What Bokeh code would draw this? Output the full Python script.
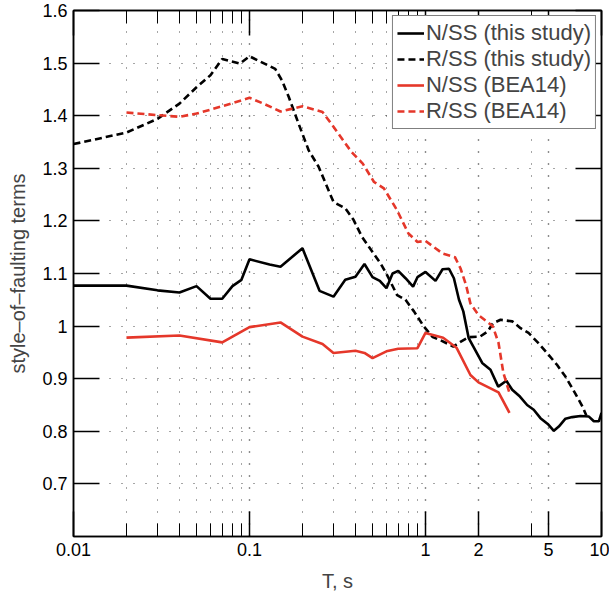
from bokeh.plotting import figure
from bokeh.models import (Range1d, FixedTicker, LogAxis, LinearAxis, CustomJSTickFormatter,
                          Legend, LegendItem)
from bokeh.embed import file_html
from bokeh.resources import INLINE

# ---- data ----
ns_this_T = [0.01, 0.02, 0.03, 0.04, 0.05, 0.06, 0.07, 0.08, 0.09, 0.1, 0.13, 0.15, 0.2, 0.25,
             0.3, 0.35, 0.4, 0.45, 0.5, 0.55, 0.6, 0.65, 0.7, 0.77, 0.85, 0.9, 1.0, 1.14, 1.25,
             1.36, 1.45, 1.55, 1.64, 1.76, 1.87, 2.1, 2.34, 2.59, 2.88, 3.11, 3.44, 3.78, 4.12,
             4.5, 4.95, 5.36, 5.72, 6.24, 6.82, 7.6, 8.48, 9.05, 9.66, 10.0]
ns_this_v = [1.077, 1.077, 1.068, 1.064, 1.076, 1.052, 1.052, 1.076, 1.088, 1.127, 1.117, 1.113,
             1.148, 1.067, 1.056, 1.088, 1.094, 1.118, 1.093, 1.086, 1.072, 1.100, 1.105, 1.091,
             1.075, 1.093, 1.103, 1.086, 1.108, 1.109, 1.091, 1.050, 1.028, 0.977, 0.961, 0.930,
             0.917, 0.885, 0.896, 0.879, 0.866, 0.850, 0.841, 0.825, 0.814, 0.801, 0.809, 0.824,
             0.827, 0.829, 0.828, 0.819, 0.819, 0.835]

rs_this_T = [0.01, 0.02, 0.03, 0.04, 0.05, 0.06, 0.07, 0.088, 0.1, 0.14, 0.153, 0.167, 0.19,
             0.217, 0.247, 0.3, 0.35, 0.39, 0.435, 0.49, 0.556, 0.605, 0.69, 0.77, 0.86, 0.98,
             1.1, 1.2, 1.44, 1.58, 1.76, 2.04, 2.26, 2.41, 2.67, 3.11, 3.47, 3.85, 4.37, 4.9,
             5.6, 6.24, 6.9, 7.8, 8.2]
rs_this_v = [1.346, 1.368, 1.394, 1.423, 1.454, 1.477, 1.508, 1.499, 1.513, 1.489, 1.467, 1.436,
             1.385, 1.334, 1.303, 1.236, 1.224, 1.202, 1.170, 1.145, 1.119, 1.097, 1.059, 1.050,
             1.028, 0.999, 0.979, 0.974, 0.961, 0.970, 0.979, 0.980, 0.990, 1.005, 1.012, 1.009,
             0.996, 0.987, 0.968, 0.949, 0.926, 0.904, 0.879, 0.847, 0.830]

ns_bea_T = [0.02, 0.04, 0.07, 0.1, 0.15, 0.2, 0.26, 0.3, 0.4, 0.45, 0.5, 0.6, 0.7, 0.9, 1.0,
            1.26, 1.5, 1.8, 2.0, 2.6, 3.0]
ns_bea_v = [0.978, 0.982, 0.969, 0.998, 1.007, 0.980, 0.966, 0.949, 0.953, 0.949, 0.939, 0.952,
            0.957, 0.958, 0.987, 0.978, 0.959, 0.907, 0.893, 0.874, 0.835]

rs_bea_T = [0.02, 0.03, 0.04, 0.05, 0.07, 0.1, 0.12, 0.15, 0.2, 0.26, 0.3, 0.38, 0.44, 0.51,
            0.58, 0.69, 0.8, 0.9, 1.0, 1.25, 1.47, 1.58, 1.7, 1.8, 2.0, 2.41, 2.6, 2.77, 3.0]
rs_bea_v = [1.406, 1.401, 1.398, 1.404, 1.418, 1.434, 1.423, 1.408, 1.418, 1.407, 1.379, 1.331,
            1.309, 1.274, 1.262, 1.220, 1.176, 1.160, 1.162, 1.138, 1.131, 1.110, 1.078, 1.043,
            1.021, 1.000, 0.968, 0.911, 0.873]

x_major = [0.01, 0.1, 1, 2, 5, 10]
x_minor = [0.02, 0.03, 0.04, 0.05, 0.06, 0.07, 0.08, 0.09,
           0.2, 0.3, 0.4, 0.5, 0.6, 0.7, 0.8, 0.9, 4]
y_major = [0.7, 0.8, 0.9, 1.0, 1.1, 1.2, 1.3, 1.4, 1.5, 1.6]

labels = ["N/SS (this study)", "R/SS (this study)", "N/SS (BEA14)", "R/SS (BEA14)"]

RED = "#e5372a"
FONT = "Liberation Sans"

p = figure(width=609, height=594, x_axis_type="log",
           x_range=Range1d(0.01, 10), y_range=Range1d(0.6, 1.6),
           output_backend="svg", toolbar_location=None,
           min_border_left=73, min_border_right=8, min_border_top=10, min_border_bottom=57)
p.background_fill_color = "white"
p.border_fill_color = "white"
p.outline_line_color = "black"
p.outline_line_width = 1.5

xt = FixedTicker(ticks=x_major, minor_ticks=x_minor)
yt = FixedTicker(ticks=y_major, minor_ticks=[])

xfmt = CustomJSTickFormatter(code="return String(Math.round(tick*100)/100);")
yfmt = CustomJSTickFormatter(code="return (Math.abs(tick-1)<1e-9) ? '1' : tick.toFixed(1);")
blank = CustomJSTickFormatter(code="return '';")

def style_axis(ax, ticker, fmt, major_len, minor_len, show_labels=True):
    ax.ticker = ticker
    ax.formatter = fmt
    ax.axis_line_color = "black"
    ax.axis_line_width = 1.5
    ax.major_tick_line_color = "black"
    ax.major_tick_line_width = 1.5
    ax.minor_tick_line_color = "black"
    ax.minor_tick_line_width = 1
    ax.major_tick_in = major_len
    ax.major_tick_out = 0
    ax.minor_tick_in = minor_len
    ax.minor_tick_out = 0
    ax.major_label_text_font = FONT
    ax.major_label_text_color = "black"
    ax.major_label_text_font_size = "18px"
    ax.major_label_standoff = 6 if show_labels else 0

xa = p.xaxis[0]
style_axis(xa, xt, xfmt, 25, 13)
xa.axis_label = "T, s"
xa.axis_label_text_font = FONT
xa.axis_label_text_font_size = "20px"
xa.axis_label_text_font_style = "normal"
xa.axis_label_standoff = 11

ya = p.yaxis[0]
style_axis(ya, yt, yfmt, 26, 0)
ya.axis_label = "style\u2013of\u2013faulting terms"
ya.axis_label_text_font = FONT
ya.axis_label_text_font_size = "20px"
ya.axis_label_text_font_style = "normal"
ya.axis_label_standoff = 10

top = LogAxis()
style_axis(top, xt, blank, 25, 13, show_labels=False)
p.add_layout(top, "above")
right = LinearAxis()
style_axis(right, yt, blank, 26, 0, show_labels=False)
p.add_layout(right, "right")

p.xgrid.ticker = xt
p.xgrid.grid_line_color = "black"
p.xgrid.grid_line_alpha = 0.9
p.xgrid.grid_line_width = 1.4
p.xgrid.grid_line_dash = "1 11"
p.xgrid.minor_grid_line_color = "black"
p.xgrid.minor_grid_line_alpha = 0.7
p.xgrid.minor_grid_line_width = 1
p.xgrid.minor_grid_line_dash = "1 11"
p.ygrid.ticker = yt
p.ygrid.grid_line_color = "black"
p.ygrid.grid_line_alpha = 0.7
p.ygrid.grid_line_width = 1
p.ygrid.grid_line_dash = "1 11"

r1 = p.line(ns_this_T, ns_this_v, line_color="black", line_width=2.6)
r2 = p.line(rs_this_T, rs_this_v, line_color="black", line_width=2.6, line_dash="7 4")
r3 = p.line(ns_bea_T, ns_bea_v, line_color=RED, line_width=2.6)
r4 = p.line(rs_bea_T, rs_bea_v, line_color=RED, line_width=2.6, line_dash="7 4")

legend = Legend(items=[LegendItem(label=labels[0], renderers=[r1]),
                       LegendItem(label=labels[1], renderers=[r2]),
                       LegendItem(label=labels[2], renderers=[r3]),
                       LegendItem(label=labels[3], renderers=[r4])],
                location="top_right")
legend.label_text_font = FONT
legend.label_text_font_size = "22px"
legend.border_line_color = "black"
legend.border_line_width = 1.5
legend.background_fill_color = "white"
legend.background_fill_alpha = 1
legend.glyph_width = 27
legend.glyph_height = 22
legend.label_height = 22
legend.label_standoff = 2
legend.spacing = 0
legend.padding = 4
legend.margin = 5
p.add_layout(legend)

open("out.html", "w").write(file_html(p, INLINE))
